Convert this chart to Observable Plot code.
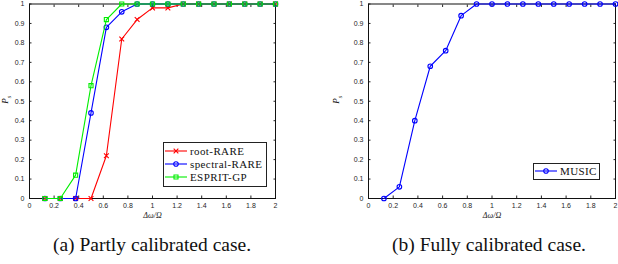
<!DOCTYPE html>
<html>
<head>
<meta charset="utf-8">
<script src="https://cdn.jsdelivr.net/npm/d3@7"></script>
<script src="https://cdn.jsdelivr.net/npm/@observablehq/plot@0.6"></script>
<style>
  html, body { margin: 0; padding: 0; background: #fff; }
  #wrap { position: relative; width: 618px; height: 264px; overflow: hidden; }
  .chart { position: absolute; top: 0; }
  .ylab { position: absolute; font-family: "Liberation Serif", serif; font-style: italic; font-size: 9px; transform: rotate(-90deg); transform-origin: center; }
  .caption { position: absolute; font-family: "Liberation Serif", serif; font-size: 19.5px; line-height: 22px; color: #111; white-space: nowrap; transform: translateX(-50%); }
  .legend { position: absolute; background: #fff; border: 1px solid #222; font-family: "Liberation Serif", serif; font-size: 11px; letter-spacing: 0.4px; color: #111; }
  .legend .row { position: absolute; left: 0; height: 12px; display: flex; align-items: center; white-space: nowrap; }
  .legend svg { display: block; margin-right: 2px; }
</style>
</head>
<body>
<div id="wrap"></div>
<script>
// ---- data ----
const dw = [0.125, 0.25, 0.375, 0.5, 0.625, 0.75, 0.875, 1, 1.125, 1.25, 1.375, 1.5, 1.625, 1.75, 1.875, 2];
const rootRARE     = [0, 0, 0, 0, 0.22, 0.82, 0.92, 0.98, 0.98, 1, 1, 1, 1, 1, 1, 1];
const spectralRARE = [0, 0, 0, 0.44, 0.88, 0.96, 1, 1, 1, 1, 1, 1, 1, 1, 1, 1];
const espritGP     = [0, 0, 0.12, 0.58, 0.92, 1, 1, 1, 1, 1, 1, 1, 1, 1, 1, 1];
const music        = [0, 0.06, 0.40, 0.68, 0.76, 0.94, 1, 1, 1, 1, 1, 1, 1, 1, 1, 1];
const xTicks = [0, 0.2, 0.4, 0.6, 0.8, 1, 1.2, 1.4, 1.6, 1.8, 2];
const yTicks = [0, 0.1, 0.2, 0.3, 0.4, 0.5, 0.6, 0.7, 0.8, 0.9, 1];
const seriesA = [
  {name: "root-RARE", values: rootRARE, color: "#ff0000", symbol: "times"},
  {name: "spectral-RARE", values: spectralRARE, color: "#0000ff", symbol: "circle"},
  {name: "ESPRIT-GP", values: espritGP, color: "#00ee00", symbol: "square"}
];
const seriesB = [
  {name: "MUSIC", values: music, color: "#0000ff", symbol: "circle"}
];
const xLabel = "Δω/Ω";
const yLabel = "P";
const captions = ["(a) Partly calibrated case.", "(b) Fully calibrated case."];

const fmt = d => String(+d.toFixed(1));

function makeChart(series, ml, mr) {
  const marks = [
    Plot.axisX({ticks: xTicks, tickSize: 0, tickPadding: 5, tickFormat: fmt, fontSize: 7, label: null, fill: "#262626"}),
    Plot.axisX({ticks: xTicks, tickSize: -2.5, text: null, label: null, stroke: "#262626"}),
    Plot.axisX({anchor: "top", ticks: xTicks, tickSize: -2.5, text: null, label: null, stroke: "#262626"}),
    Plot.axisY({ticks: yTicks, tickSize: 0, tickPadding: 5, tickFormat: fmt, fontSize: 7, label: null, fill: "#262626"}),
    Plot.axisY({ticks: yTicks, tickSize: -2.5, text: null, label: null, stroke: "#262626"}),
    Plot.axisY({anchor: "right", ticks: yTicks, tickSize: -2.5, text: null, label: null, stroke: "#262626"}),
    Plot.frame({stroke: "#111", strokeWidth: 1}),
    Plot.text([xLabel], {frameAnchor: "bottom", dy: 19, text: d => d, fontSize: 8, fontStyle: "italic", fontFamily: "Liberation Serif, serif", fill: "#222"})
  ];
  for (const s of series) {
    const data = dw.map((x, i) => ({x, y: s.values[i]}));
    marks.push(Plot.line(data, {x: "x", y: "y", stroke: s.color, strokeWidth: 1.1}));
    marks.push(Plot.dot(data, {x: "x", y: "y", stroke: s.color, fill: "none", symbol: s.symbol, r: 2.3, strokeWidth: 1.1}));
  }
  return Plot.plot({
    width: 309, height: 225,
    marginTop: 3.5, marginBottom: 27, marginLeft: ml, marginRight: mr,
    x: {domain: [0, 2]},
    y: {domain: [0, 1]},
    style: {fontFamily: "Liberation Sans, Arial, sans-serif", background: "transparent"},
    marks
  });
}

const wrap = document.getElementById("wrap");
function place(el, left) {
  el.classList.add("chart");
  el.style.left = left + "px";
  wrap.appendChild(el);
}
place(makeChart(seriesA, 29, 34), 0);
place(makeChart(seriesB, 59, 3), 309);

// y labels
for (const [cx] of [[7], [338]]) {
  const d = document.createElement("div");
  d.className = "ylab";
  d.innerHTML = yLabel + "<sub style='font-size:6px'>s</sub>";
  d.style.left = (cx - 5) + "px";
  d.style.top = "94px";
  wrap.appendChild(d);
}

// legends
function symbolSvg(s) {
  const svg = d3.create("svg").attr("width", 24).attr("height", 10);
  svg.append("line").attr("x1", 1).attr("x2", 23).attr("y1", 5).attr("y2", 5)
    .attr("stroke", s.color).attr("stroke-width", 2).attr("stroke-opacity", 0.55);
  svg.append("path").attr("transform", "translate(12,5)")
    .attr("d", d3.symbol(s.symbol === "times" ? d3.symbolTimes : s.symbol === "square" ? d3.symbolSquare : d3.symbolCircle, 16)())
    .attr("fill", "none").attr("stroke", s.color).attr("stroke-width", 1.1);
  return svg.node();
}
function makeLegend(series, left, top, w, h, rowTops) {
  const lg = document.createElement("div");
  lg.className = "legend";
  Object.assign(lg.style, {left: left + "px", top: top + "px", width: w + "px", height: h + "px"});
  series.forEach((s, i) => {
    const row = document.createElement("div");
    row.className = "row";
    row.style.top = rowTops[i] + "px";
    row.appendChild(symbolSvg(s));
    const t = document.createElement("span");
    t.textContent = s.name;
    row.appendChild(t);
    lg.appendChild(row);
  });
  wrap.appendChild(lg);
}
makeLegend(seriesA, 163, 142, 102, 43, [2, 15, 28]);
makeLegend(seriesB, 533, 163, 65, 15, [1]);

// captions
captions.forEach((c, i) => {
  const d = document.createElement("div");
  d.className = "caption";
  d.textContent = c;
  d.style.left = (i === 0 ? 152 : 489) + "px";
  d.style.top = "234px";
  wrap.appendChild(d);
});
</script>
</body>
</html>
